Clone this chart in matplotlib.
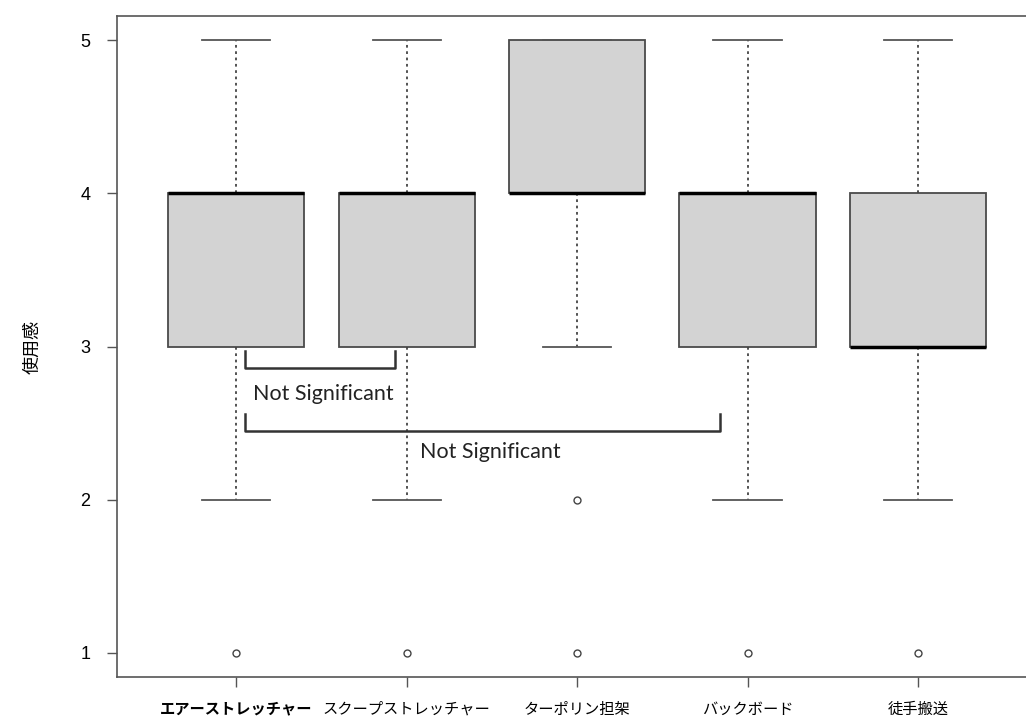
import matplotlib
matplotlib.use('Agg')
import matplotlib.pyplot as plt

plt.rcParams['font.family'] = ['Liberation Sans', 'Noto Sans CJK JP', 'DejaVu Sans']

labels = ['エアーストレッチャー', 'スクープストレッチャー', 'ターポリン担架', 'バックボード', '徒手搬送']
q1 = [3, 3, 4, 3, 3]
med = [4, 4, 4, 4, 3]
q3 = [4, 4, 5, 4, 4]
whislo = [2, 2, 3, 2, 2]
whishi = [5, 5, 5, 5, 5]
fliers = [[1], [1], [2, 1], [1], [1]]

# brackets: (x start, x end, y top, y bottom, text x, text y)
brackets = [(1.05, 1.93, 2.97, 2.86, 1.51, 2.69),
            (1.05, 3.84, 2.56, 2.45, 2.49, 2.31)]

stats = []
for i in range(len(labels)):
    stats.append({'med': med[i], 'q1': q1[i], 'q3': q3[i],
                  'whislo': whislo[i], 'whishi': whishi[i], 'fliers': fliers[i]})

fig = plt.figure(figsize=(10.26, 7.22), dpi=100)
ax = fig.add_axes([0.114, 0.062, 0.897, 0.916])

ax.bxp(stats, positions=range(1, 6), widths=0.8, patch_artist=True, showfliers=True,
       boxprops=dict(facecolor='#d3d3d3', edgecolor='#4a4a4a', linewidth=1.3),
       medianprops=dict(color='black', linewidth=2.5),
       whiskerprops=dict(color='#444444', linestyle=(0, (1.5, 2)), linewidth=1.3),
       capprops=dict(color='#555555', linewidth=1.3),
       capwidths=0.4,
       flierprops=dict(marker='o', markersize=5, markerfacecolor='white',
                       markeredgecolor='#444444', markeredgewidth=1.0))

for x0, x1, yt, yb, tx, ty in brackets:
    ax.plot([x0, x0, x1, x1], [yt, yb, yb, yt], color='#333333', linewidth=1.8)
    ax.text(tx, ty, 'Not Significant', ha='center', va='center', fontsize=15.5,
            family=['Lato', 'DejaVu Sans'], color='#222222')

ax.set_xlim(0.3, 5.7)
ax.set_ylim(0.84, 5.16)
ax.set_yticks([1, 2, 3, 4, 5])
ax.set_xticks(range(1, 6))
ax.set_xticklabels(labels, family=['Noto Sans CJK JP', 'DejaVu Sans'], fontsize=11)
ax.tick_params(axis='both', direction='out', length=7, width=1, colors='#555555',
               labelcolor='black', labelsize=13, pad=12)
ax.tick_params(axis='x', labelsize=11, pad=10)
ax.get_xticklabels()[0].set_fontweight('bold')
ax.get_xticklabels()[0].set_fontsize(11)
for s in ax.spines.values():
    s.set_color('#555555')
    s.set_linewidth(1.2)
ax.set_ylabel('使用感', family=['Noto Sans CJK JP', 'DejaVu Sans'], fontsize=13, labelpad=28)

fig.savefig('out.png', dpi=100)
